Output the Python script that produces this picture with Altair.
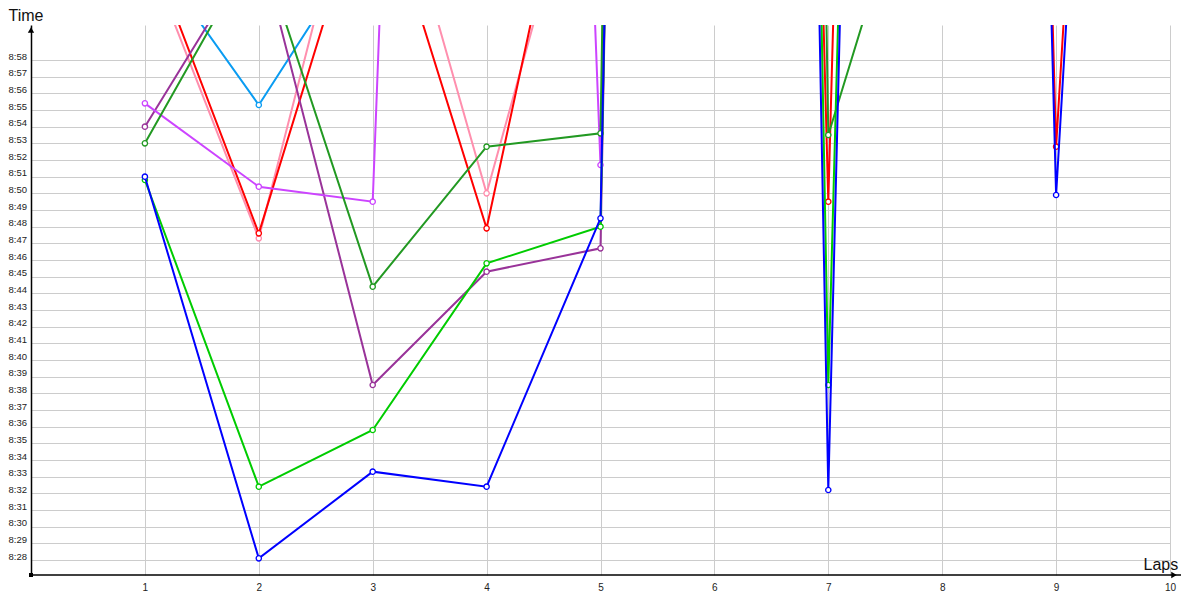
import altair as alt
import pandas as pd

# ---- data (lap times in seconds; 8:28 = 508 s) ----
laps = [1, 2, 3, 4, 5, 6, 7, 8, 9, 10]

sky_blue_times = [544.9, 535.3, 545.9]
pink_times = [544.7, 527.3, 554.0, 530.0, 554.7]
red_times = [545.5, 527.6, 549.8, 527.9, 559.6, 786.0, 529.5, 780.0, 532.8, 646.0]
magenta_times = [534.0, 545.1, 518.5, 525.3, 526.7, 900.0]
violet_times = [535.4, 530.4, 529.5, 710.0, 531.7, 900.0]
dark_green_times = [533.0, 545.1, 524.4, 532.8, 533.6, 950.0, 533.5, 555.8]
light_green_times = [530.8, 512.4, 515.8, 525.8, 528.0, 886.0, 518.5, 772.0]
blue_times = [531.0, 508.1, 513.3, 512.4, 528.5, 875.0, 512.2, 788.0, 529.9, 646.0]

series_names = ["sky", "pink", "red", "magenta", "violet", "darkgreen", "lightgreen", "blue"]
series_values = [sky_blue_times, pink_times, red_times, magenta_times, violet_times,
                 dark_green_times, light_green_times, blue_times]
series_colors = ["#0a9cf2", "#ff8fae", "#ff0000", "#993399", "#cc44ff",
                 "#229922", "#00cc00", "#0000ff"]

y_ticks = list(range(508, 539))

rows = []
for name, vals in zip(series_names, series_values):
    for lap, v in zip(laps, vals):
        rows.append({"series": name, "lap": lap, "t": v})
df = pd.DataFrame(rows)

W, H = 1139, 550
FONT = "Liberation Sans"

x_enc = alt.X(
    "lap:Q",
    scale=alt.Scale(domain=[0, 10], nice=False, zero=False),
    axis=alt.Axis(
        values=laps, grid=True, gridColor="#cccccc", gridWidth=1, ticks=False,
        domain=False, labelFont=FONT, labelFontSize=10, labelColor="#222222",
        labelPadding=7, labelFlush=False, labelOverlap=False,
        title="Laps", titleX=1112, titleY=-6, titleAlign="left",
        titleBaseline="alphabetic", titleFontSize=16, titleFontWeight="normal",
        titleFont=FONT, titleColor="#111111",
    ),
)
y_enc = alt.Y(
    "t:Q",
    scale=alt.Scale(domain=[507.1, 540.1], nice=False, zero=False),
    axis=alt.Axis(
        values=y_ticks,
        labelExpr="floor(datum.value/60) + ':' + (datum.value % 60 < 10 ? '0' : '') + (datum.value % 60)",
        grid=True, gridColor="#cccccc", gridWidth=1, ticks=False,
        domain=True, domainColor="black", domainWidth=1.5,
        labelFont=FONT, labelFontSize=9.5, labelColor="#222222", labelPadding=4.5,
        labelBaseline="alphabetic", labelOffset=-1, labelOverlap=False,
        title="Time", titleAngle=0, titleX=-23, titleY=-5, titleAlign="left",
        titleBaseline="alphabetic", titleFontSize=16, titleFontWeight="normal",
        titleFont=FONT, titleColor="#111111",
    ),
)

layers = []
for name, color in zip(series_names, series_colors):
    layers.append(
        alt.Chart(df)
        .transform_filter(alt.datum.series == name)
        .mark_line(
            color=color, strokeWidth=2, clip=True,
            point=alt.OverlayMarkDef(filled=False, fill="white", color=color,
                                     size=28, strokeWidth=1.3, opacity=1, clip=True),
        )
        .encode(x=x_enc, y=y_enc, order="lap:Q")
    )

one = alt.Data(values=[{}])
x_axis_line = alt.Chart(one).mark_rule(color="black", strokeWidth=1.6).encode(
    x=alt.value(0), x2=alt.value(1150), y=alt.value(H))
x_arrow = alt.Chart(one).mark_point(shape="triangle-right", filled=True, color="black",
                                     size=40, opacity=1).encode(
    x=alt.value(1143), y=alt.value(H))
y_arrow = alt.Chart(one).mark_point(shape="triangle-up", filled=True, color="black",
                                     size=40, opacity=1).encode(
    x=alt.value(0), y=alt.value(5))
origin_sq = alt.Chart(one).mark_point(shape="square", filled=True, color="black",
                                       size=16, opacity=1).encode(
    x=alt.value(0), y=alt.value(H))

chart = alt.layer(*layers, x_axis_line, x_arrow, y_arrow, origin_sq).properties(
    width=W, height=H,
    autosize=alt.AutoSizeParams(type="none"),
    padding={"left": 23, "top": 17, "right": 22, "bottom": 18},
    background="white",
).configure_view(stroke=None)

chart.save("out.html", embed_options={"renderer": "svg", "actions": False})
